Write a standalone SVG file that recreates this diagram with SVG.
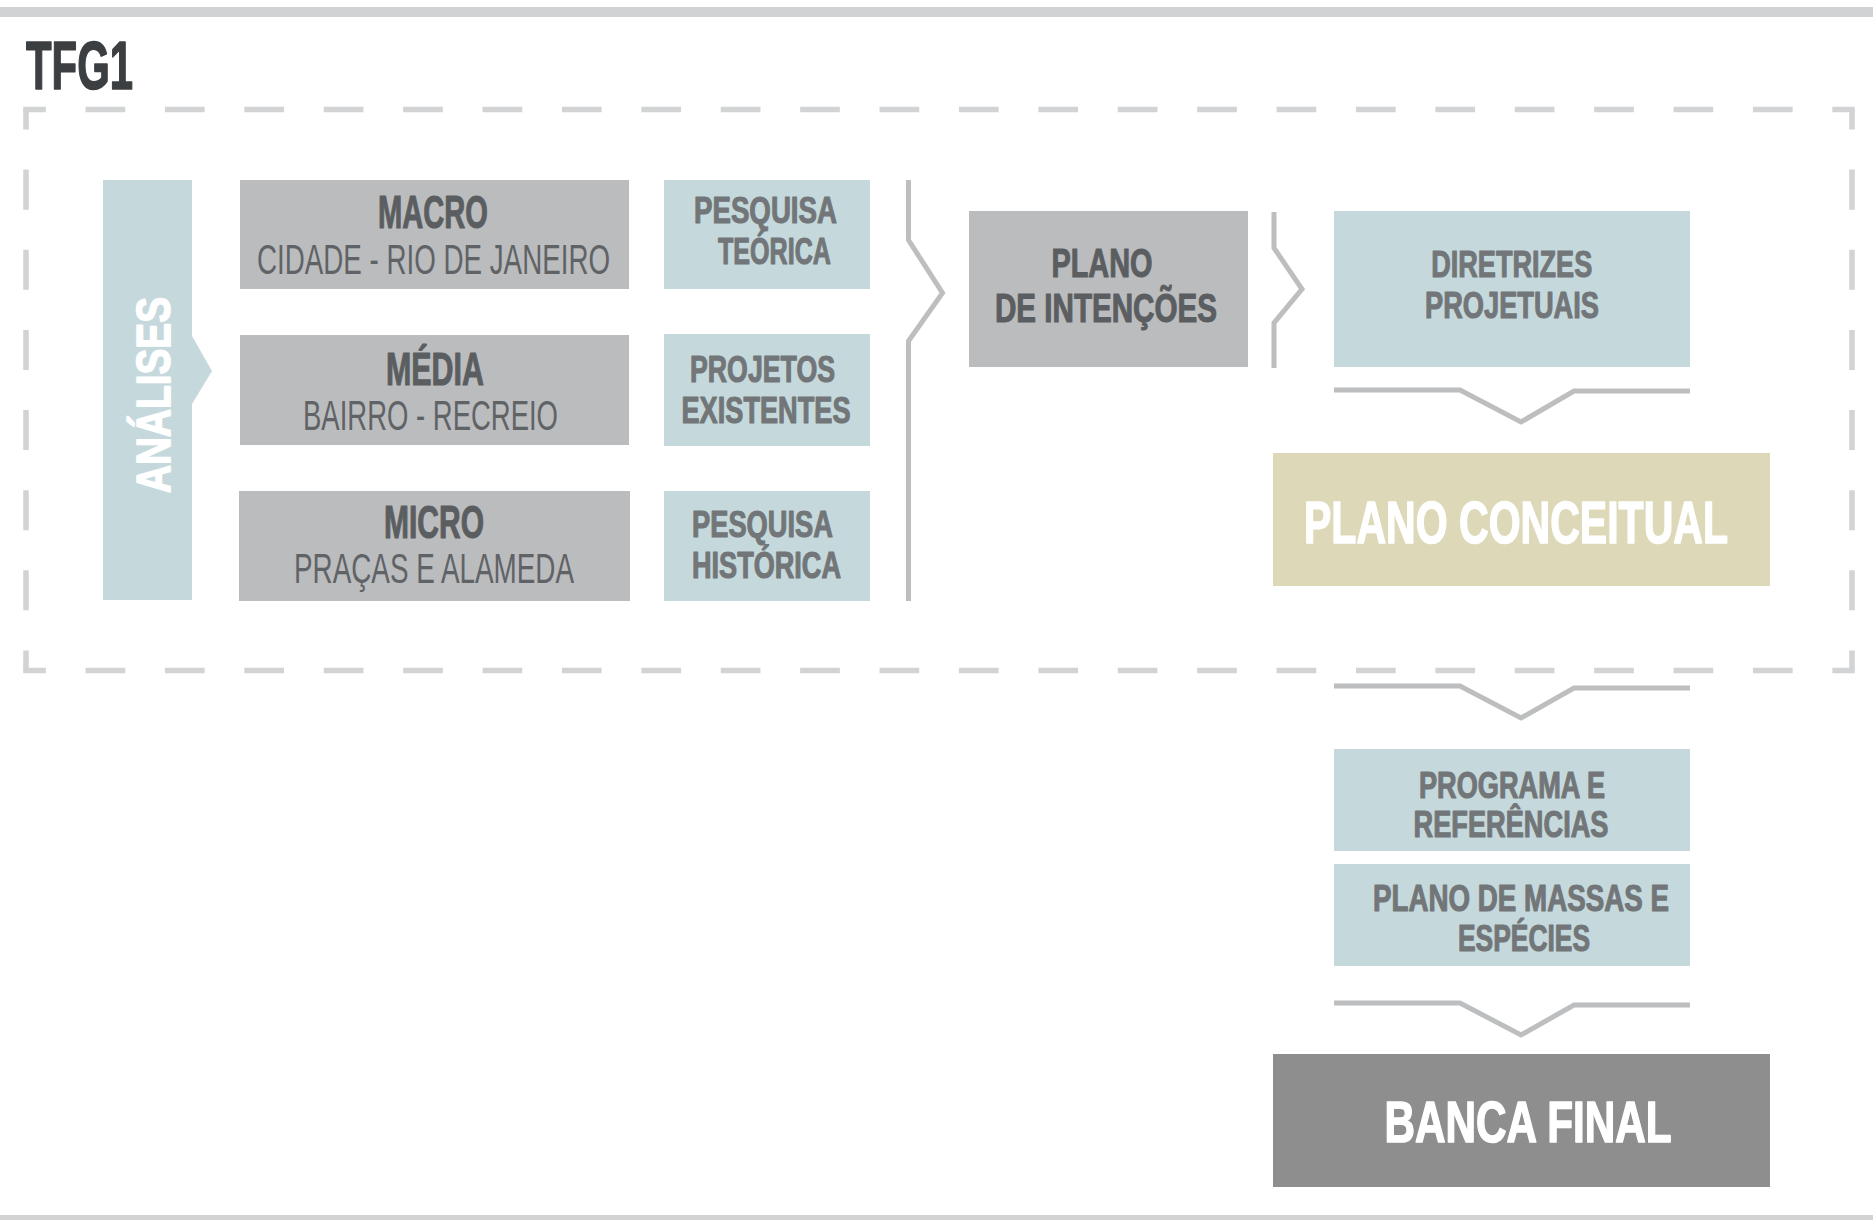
<svg xmlns="http://www.w3.org/2000/svg" width="1873" height="1220" viewBox="0 0 1873 1220">
  <style>
    .bar { fill: #d0d2d3; }
    .frame { stroke: #d1d3d4; stroke-width: 5.5; fill: none; }
    .gray { fill: #bbbcbe; }
    .blue { fill: #c5d9dd; }
    .beige { fill: #ddd8b7; }
    .dark { fill: #8e8e8e; }
    .conn { stroke: #bcbec0; stroke-width: 5; fill: none; stroke-linejoin: miter; }
    text { font-family: "Liberation Sans Narrow", "Liberation Sans", Arial, sans-serif; text-anchor: middle; }
    .b { font-weight: bold; stroke-width: 1.1; stroke-linejoin: round; }
    .big { stroke-width: 1.6; }
    .r { font-weight: normal; }
    .tg { fill: #5b5e61; stroke: #5b5e61; }
    .tb { fill: #727678; stroke: #727678; }
    .tr { fill: #606366; }
    .tw { fill: #ffffff; stroke: #ffffff; }
    .tt { fill: #3c3f42; stroke: #3c3f42; text-anchor: start; }
  </style>

  <rect class="bar" x="0" y="7" width="1873" height="10"/>
  <rect class="bar" x="0" y="1215" width="1873" height="5"/>

  <text x="26" y="89" class="b big tt" font-size="68.4" textLength="107" lengthAdjust="spacingAndGlyphs">TFG1</text>

  <g id="frame">
    <line class="frame" x1="23.25" y1="109.5" x2="1854.75" y2="109.5" stroke-dasharray="39.7 39.7" stroke-dashoffset="17.1"/>
    <line class="frame" x1="23.25" y1="670.5" x2="1854.75" y2="670.5" stroke-dasharray="39.7 39.7" stroke-dashoffset="17.1"/>
    <line class="frame" x1="26" y1="109.5" x2="26" y2="670.5" stroke-dasharray="40.07 40.07" stroke-dashoffset="20.04"/>
    <line class="frame" x1="1852" y1="109.5" x2="1852" y2="670.5" stroke-dasharray="40.07 40.07" stroke-dashoffset="20.04"/>
  </g>

  <g id="connectors">
    <polyline class="conn" points="908.5,180 908.5,240 942.5,293 908.5,341 908.5,601"/>
    <polyline class="conn" points="1274,212 1274,248 1302,289 1274,323 1274,368"/>
    <polyline class="conn" points="1334,390 1460,390 1521,422 1574,391 1690,391"/>
    <polyline class="conn" points="1334,686 1460,686 1521,718 1574,688 1690,688"/>
    <polyline class="conn" points="1334,1003 1460,1003 1521,1035 1574,1005 1690,1005"/>
  </g>

  <g id="analises">
    <polygon class="blue" points="103,180 192,180 192,336 212,371 192,404 192,600 103,600"/>
    <text class="b big tw" transform="translate(170,395) rotate(-90)" x="0" y="0" font-size="48" textLength="196" lengthAdjust="spacingAndGlyphs">ANÁLISES</text>
  </g>

  <g id="macro">
    <rect class="gray" x="240" y="180" width="389" height="109"/>
    <text class="b tg" x="433" y="228" font-size="46" textLength="110" lengthAdjust="spacingAndGlyphs">MACRO</text>
    <text class="r tr" x="433.5" y="274" font-size="42" textLength="353" lengthAdjust="spacingAndGlyphs">CIDADE - RIO DE JANEIRO</text>
  </g>

  <g id="media">
    <rect class="gray" x="240" y="335" width="389" height="110"/>
    <text class="b tg" x="435" y="385" font-size="46" textLength="98" lengthAdjust="spacingAndGlyphs">MÉDIA</text>
    <text class="r tr" x="430.5" y="430" font-size="42" textLength="255" lengthAdjust="spacingAndGlyphs">BAIRRO - RECREIO</text>
  </g>

  <g id="micro">
    <rect class="gray" x="239" y="491" width="391" height="110"/>
    <text class="b tg" x="434" y="538" font-size="46" textLength="100" lengthAdjust="spacingAndGlyphs">MICRO</text>
    <text class="r tr" x="434" y="583" font-size="42" textLength="280" lengthAdjust="spacingAndGlyphs">PRAÇAS E ALAMEDA</text>
  </g>

  <g id="pesquisa-teorica">
    <rect class="blue" x="664" y="180" width="206" height="109"/>
    <text class="b tb" x="765.5" y="223" font-size="36" textLength="143" lengthAdjust="spacingAndGlyphs">PESQUISA</text>
    <text class="b tb" x="774.5" y="264" font-size="36" textLength="113" lengthAdjust="spacingAndGlyphs">TEÓRICA</text>
  </g>

  <g id="projetos-existentes">
    <rect class="blue" x="664" y="334" width="206" height="112"/>
    <text class="b tb" x="762.5" y="382" font-size="36" textLength="145" lengthAdjust="spacingAndGlyphs">PROJETOS</text>
    <text class="b tb" x="766" y="423" font-size="36" textLength="169" lengthAdjust="spacingAndGlyphs">EXISTENTES</text>
  </g>

  <g id="pesquisa-historica">
    <rect class="blue" x="664" y="491" width="206" height="110"/>
    <text class="b tb" x="762.5" y="537" font-size="36" textLength="141" lengthAdjust="spacingAndGlyphs">PESQUISA</text>
    <text class="b tb" x="766.5" y="578" font-size="36" textLength="149" lengthAdjust="spacingAndGlyphs">HISTÓRICA</text>
  </g>

  <g id="plano-intencoes">
    <rect class="gray" x="969" y="211" width="279" height="156"/>
    <text class="b tg" x="1102" y="277" font-size="40" textLength="101" lengthAdjust="spacingAndGlyphs">PLANO</text>
    <text class="b tg" x="1106" y="322" font-size="40" textLength="222" lengthAdjust="spacingAndGlyphs">DE INTENÇÕES</text>
  </g>

  <g id="diretrizes">
    <rect class="blue" x="1334" y="211" width="356" height="156"/>
    <text class="b tb" x="1511.7" y="277" font-size="37.7" textLength="161" lengthAdjust="spacingAndGlyphs">DIRETRIZES</text>
    <text class="b tb" x="1512" y="318" font-size="37.7" textLength="174" lengthAdjust="spacingAndGlyphs">PROJETUAIS</text>
  </g>

  <g id="plano-conceitual">
    <rect class="beige" x="1273" y="453" width="497" height="133"/>
    <text class="b big tw" x="1516" y="543" font-size="59.5" textLength="424" lengthAdjust="spacingAndGlyphs">PLANO CONCEITUAL</text>
  </g>

  <g id="programa">
    <rect class="blue" x="1334" y="749" width="356" height="102"/>
    <text class="b tb" x="1512" y="798" font-size="36.3" textLength="186" lengthAdjust="spacingAndGlyphs">PROGRAMA E</text>
    <text class="b tb" x="1511" y="837" font-size="36.3" textLength="195" lengthAdjust="spacingAndGlyphs">REFERÊNCIAS</text>
  </g>

  <g id="plano-massas">
    <rect class="blue" x="1334" y="864" width="356" height="102"/>
    <text class="b tb" x="1521" y="911" font-size="36" textLength="296" lengthAdjust="spacingAndGlyphs">PLANO DE MASSAS E</text>
    <text class="b tb" x="1524" y="951" font-size="36" textLength="132" lengthAdjust="spacingAndGlyphs">ESPÉCIES</text>
  </g>

  <g id="banca-final">
    <rect class="dark" x="1273" y="1054" width="497" height="133"/>
    <text class="b big tw" x="1528" y="1142" font-size="58" textLength="287" lengthAdjust="spacingAndGlyphs">BANCA FINAL</text>
  </g>
</svg>
